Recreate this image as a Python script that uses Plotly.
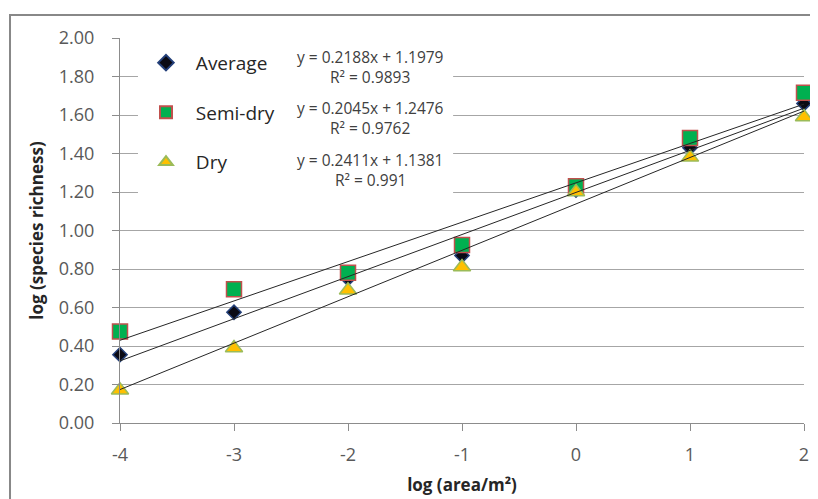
import plotly.graph_objects as go

# ---- data ----
log_area = [-4, -3, -2, -1, 0, 1, 2]
average = [0.355, 0.575, 0.75, 0.87, 1.21, 1.43, 1.66]
semi_dry = [0.475, 0.695, 0.78, 0.925, 1.23, 1.48, 1.715]
dry = [0.17, 0.39, 0.69, 0.81, 1.20, 1.38, 1.59]

series_names = ["Average", "Semi-dry", "Dry"]
slopes = [0.2188, 0.2045, 0.2411]
intercepts = [1.1979, 1.2476, 1.1381]
r_squared = ["0.9893", "0.9762", "0.991"]

y_ticks = [0.0, 0.2, 0.4, 0.6, 0.8, 1.0, 1.2, 1.4, 1.6, 1.8, 2.0]
x_ticks = [-4, -3, -2, -1, 0, 1, 2]

FONT = "Open Sans, Liberation Sans, sans-serif"
GRID = "#a6a6a6"
AXIS = "#8c8c8c"

fig = go.Figure()

styles = [
    dict(symbol="diamond", size=11, color="#0a0a14", line=dict(color="#24407a", width=1.5)),
    dict(symbol="square", size=15, color="#00b050", line=dict(color="#c0504d", width=1.5)),
    dict(symbol="triangle-up", size=15, color="#ffc000", line=dict(color="#9bbb59", width=1.5)),
]
values = [average, semi_dry, dry]

for name, vals, st in zip(series_names, values, styles):
    fig.add_trace(go.Scatter(
        x=log_area, y=vals, mode="markers", name="\u00a0\u00a0" + name,
        legendgroup=name, marker=st, cliponaxis=False,
    ))

# trendlines from the fitted equations
x_fit = [log_area[0], log_area[-1]]
for name, m, b in zip(series_names, slopes, intercepts):
    fig.add_trace(go.Scatter(
        x=x_fit, y=[m * xv + b for xv in x_fit], mode="lines",
        line=dict(color="#262626", width=1), showlegend=False,
        hoverinfo="skip", cliponaxis=False,
    ))

# white box behind legend and equation labels (hides gridlines)
fig.add_shape(type="rect", xref="paper", yref="paper",
              x0=0.0263, x1=0.487, y0=0.575, y1=0.992,
              fillcolor="white", line=dict(width=0), layer="above")

# outer chart border
fig.add_shape(type="rect", xref="paper", yref="paper",
              x0=-0.1608, x1=1.08, y0=-0.3, y1=1.0597,
              fillcolor="rgba(0,0,0,0)", line=dict(color="#888888", width=2),
              layer="above")

# equation annotations
eq_y = [(0.9506, 0.8987), (0.818, 0.766), (0.683, 0.631)]
for m, b, r2, (ye, yr) in zip(slopes, intercepts, r_squared, eq_y):
    fig.add_annotation(xref="paper", yref="paper", x=0.3655, y=ye,
                       xanchor="center", yanchor="middle",
                       text=f"y = {m}x + {b}", showarrow=False,
                       font=dict(size=15.5, color="#404040", family=FONT))
    fig.add_annotation(xref="paper", yref="paper", x=0.3655, y=yr,
                       xanchor="center", yanchor="middle",
                       text=f"R² = {r2}", showarrow=False,
                       font=dict(size=15.5, color="#404040", family=FONT))

fig.update_layout(
    width=810, height=491,
    margin=dict(l=112, r=14, t=30, b=76),
    paper_bgcolor="white", plot_bgcolor="white",
    font=dict(family=FONT, color="#595959"),
    showlegend=True,
    legend=dict(
        x=0.038, y=0.985, xanchor="left", yanchor="top",
        bgcolor="rgba(0,0,0,0)", font=dict(size=19, color="#262626", family=FONT),
        tracegroupgap=22, itemsizing="constant",
    ),
    xaxis=dict(
        range=[-4, 2], tickvals=x_ticks, ticktext=[str(v) for v in x_ticks],
        automargin=False,
        showgrid=False, zeroline=False, showline=True, linecolor=AXIS, linewidth=1,
        ticks="outside", ticklen=7, tickcolor=AXIS,
        tickfont=dict(size=18, color="#595959"), ticklabelstandoff=8,
        title=dict(text="<b>log (area/m²)</b>", font=dict(size=17, color="#262626"), standoff=14),
    ),
    yaxis=dict(
        range=[0, 2], tickvals=y_ticks, ticktext=[f"{v:.2f}" for v in y_ticks],
        automargin=False,
        showgrid=True, gridcolor=GRID, gridwidth=1, zeroline=False,
        showline=True, linecolor=AXIS, linewidth=1,
        ticks="outside", ticklen=7, tickcolor=AXIS,
        tickfont=dict(size=18, color="#595959"), ticklabelstandoff=14,
        title=dict(text="<b>log (species richness)</b>", font=dict(size=17, color="#262626"), standoff=10),
    ),
)

fig.write_html("out.html")
